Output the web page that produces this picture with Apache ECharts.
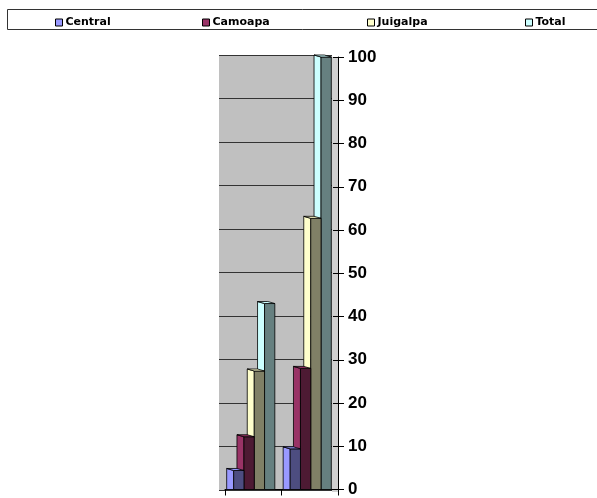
<!DOCTYPE html>
<html>
<head>
<meta charset="utf-8">
<script src="https://cdn.jsdelivr.net/npm/echarts@6/dist/echarts.min.js"></script>
<style>
  html, body { margin: 0; padding: 0; background: #fff; }
  #chart { width: 597px; height: 498px; }
</style>
</head>
<body>
<div id="chart"></div>
<script>
var categories = ['1', '2'];
var seriesNames = ['Central', 'Camoapa', 'Juigalpa', 'Total'];
var central = [4.4, 9.4];
var camoapa = [12.2, 28];
var juigalpa = [27.4, 62.7];
var total = [43, 100];
var yTicks = [0, 10, 20, 30, 40, 50, 60, 70, 80, 90, 100];

var lightColors = ['#9999FF', '#993366', '#FFFFCC', '#CCFFFF'];
var darkColors = ['#4D4D80', '#4D1A33', '#808066', '#668080'];
var legendLeft = [50, 197, 362, 520];

var font = '"Liberation Sans", Arial, sans-serif';
var legendFont = '"DejaVu Sans", sans-serif';

function makeRender(idx) {
  return function(params, api) {
    var cat = api.value(0);
    var val = api.value(1);
    var base = api.coord([cat, 0]);
    var top = api.coord([cat, val]);
    var band = api.size([1, 0])[0];
    var w = band * 0.182;
    var x0 = base[0] + 1 - 2 * w + idx * w;
    var d = 7, h = 2;
    var stroke = { stroke: '#000', lineWidth: 0.8 };
    return {
      type: 'group',
      children: [
        {
          type: 'polygon',
          shape: { points: [[x0 - d, top[1] - h], [x0, top[1]], [x0, base[1]], [x0 - d, base[1]]] },
          style: Object.assign({ fill: lightColors[idx] }, stroke)
        },
        {
          type: 'rect',
          shape: { x: x0, y: top[1], width: w, height: base[1] - top[1] },
          style: Object.assign({ fill: darkColors[idx] }, stroke)
        },
        {
          type: 'polygon',
          shape: { points: [[x0 - d, top[1] - h], [x0 + w - d, top[1] - h], [x0 + w, top[1]], [x0, top[1]]] },
          style: Object.assign({ fill: lightColors[idx] }, stroke)
        }
      ]
    };
  };
}

var values = [central, camoapa, juigalpa, total];
var series = [];
for (var i = 0; i < seriesNames.length; i++) {
  var data = [];
  for (var j = 0; j < categories.length; j++) {
    data.push([j, values[i][j]]);
  }
  series.push({
    name: seriesNames[i],
    type: 'custom',
    xAxisIndex: 1,
    yAxisIndex: 1,
    z: 10 - i,
    itemStyle: { color: lightColors[i] },
    renderItem: makeRender(i),
    data: data
  });
}

var legends = [];
for (var k = 0; k < seriesNames.length; k++) {
  legends.push({
    data: [seriesNames[k]],
    left: legendLeft[k],
    top: 12,
    icon: 'rect',
    itemWidth: 7,
    itemHeight: 7,
    selectedMode: false,
    itemStyle: { borderColor: '#000', borderWidth: 1 },
    textStyle: { fontFamily: legendFont, fontSize: 11, fontWeight: 'bold', color: '#000', padding: [0, 0, 0, -2] }
  });
}

var chart = echarts.init(document.getElementById('chart'));
chart.setOption({
  animation: false,
  legend: legends,
  graphic: [{
    type: 'rect',
    shape: { x: 7.5, y: 9.5, width: 600, height: 20 },
    style: { fill: 'none', stroke: '#333', lineWidth: 1 },
    z: -1
  }],
  grid: [
    { left: 219, right: 265, top: 55, bottom: 8, show: true, backgroundColor: '#C0C0C0', borderWidth: 0 },
    { left: 225, right: 259, top: 57, bottom: 6 },
    { left: 332, right: 259, top: 57, bottom: 6, show: true, backgroundColor: '#D0D0D0', borderWidth: 0 }
  ],
  xAxis: [
    { gridIndex: 0, type: 'category', data: categories, show: false },
    {
      gridIndex: 1, type: 'category', data: categories,
      axisLine: { lineStyle: { color: '#000', width: 1 } },
      axisTick: { show: true, length: 6, lineStyle: { color: '#000' } },
      axisLabel: { show: false }
    },
    { gridIndex: 2, type: 'category', data: categories, show: false }
  ],
  yAxis: [
    {
      gridIndex: 0, type: 'value', min: 0, max: 100, interval: 10,
      axisLine: { show: false }, axisTick: { show: false }, axisLabel: { show: false },
      splitLine: { show: true, lineStyle: { color: '#333', width: 1 } }
    },
    {
      gridIndex: 1, type: 'value', position: 'right', min: 0, max: 100, interval: 10,
      axisLine: { show: true, lineStyle: { color: '#000', width: 1 } },
      axisTick: { show: true, length: 6, lineStyle: { color: '#000' } },
      splitLine: { show: false },
      axisLabel: {
        margin: 10, color: '#000', fontFamily: font, fontSize: 17, fontWeight: 'bold',
        formatter: function(v) { return yTicks.indexOf(v) >= 0 ? String(v) : ''; }
      }
    },
    {
      gridIndex: 1, type: 'value', position: 'right', min: 0, max: 100, interval: 10,
      axisLine: { show: false },
      axisTick: { show: true, inside: true, length: 5, lineStyle: { color: '#000' } },
      axisLabel: { show: false },
      splitLine: { show: false }
    },
    { gridIndex: 2, type: 'value', min: 0, max: 100, show: false }
  ],
  series: series
});
</script>
</body>
</html>
